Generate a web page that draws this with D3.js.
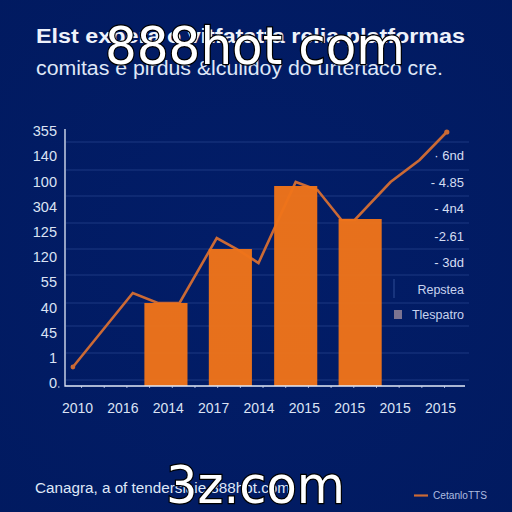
<!DOCTYPE html>
<html><head><meta charset="utf-8">
<script src="https://cdn.jsdelivr.net/npm/d3@7/dist/d3.min.js"></script>
<style>html,body{margin:0;padding:0;background:#011b63;overflow:hidden}svg{display:block}</style>
</head><body><svg id="c" width="512" height="512"></svg>
<script>
const yTickLabels = ["0","1","45","40","55","120","125","304","100","140","355"];
const xTickLabels = ["2010","2016","2014","2017","2014","2015","2015","2015","2015"];
const gridValues = [6,33,60,83,111,137,163,190,216,244];
const barPeriods = [1.96,3.38,4.82,6.24];
const barValues = [83,137,200,167];
const linePeriods = [-0.09,1.23,1.78,2.26,3.08,3.52,4.0,4.82,5.3,5.83,6.12,6.91,7.55,8.15];
const lineValues = [19,93,83,83,148,137,123,204,196,166,166,204,226,254];
const rightLabels = ["- 3dd","-2.61","- 4n4","- 4.85","· 6nd"];
const rightValues = [124,150,178,204,231];
const legendLabels = ["Repstea","Tlespatro"];
const titleText = "Elst expera o vitfatatta relia platformas";
const subtitleText = "comitas e pirdus &lculidoy do urtertaco cre.";
const footerText = "Canagra, a of tendersiaie 888hot.com";
const footerLegend = "CetanloTTS";
const stamps = ["888hot com","3z.com"];

const svg = d3.select("#c");
const defs = svg.append("defs");
const bgGrad = defs.append("radialGradient").attr("id","bg").attr("cx","50%").attr("cy","50%").attr("r","75%");
bgGrad.append("stop").attr("offset","0%").attr("stop-color","#021d68");
bgGrad.append("stop").attr("offset","100%").attr("stop-color","#011a60");
svg.append("rect").attr("width",512).attr("height",512).attr("fill","url(#bg)");

const font = "'Liberation Sans',Arial,sans-serif";
const x = d3.scaleLinear().domain([0,8]).range([77,440]);
const y = d3.scaleLinear().domain([0,260]).range([386,126]);
const yTicks = d3.scalePoint().domain(d3.range(yTickLabels.length)).range([383,131]);

svg.append("g").selectAll("line").data(gridValues).join("line")
  .attr("x1",66).attr("x2",469).attr("y1",d=>y(d)).attr("y2",d=>y(d))
  .attr("stroke","#2f4d96").attr("stroke-width",1).attr("opacity",.6);

const linePts = linePeriods.map((p,i)=>[p,lineValues[i]]);
svg.append("path").attr("d",d3.line().x(d=>x(d[0])).y(d=>y(d[1]))(linePts))
  .attr("fill","none").attr("stroke","#cb6a35").attr("stroke-width",2.6).attr("stroke-linejoin","miter");
svg.append("circle").attr("cx",x(linePeriods[0])).attr("cy",y(lineValues[0])).attr("r",2.4).attr("fill","#cb6a35");
svg.append("circle").attr("cx",x(linePeriods[linePeriods.length-1])).attr("cy",y(lineValues[lineValues.length-1])).attr("r",2.6).attr("fill","#cb6a35");

const bw = x(0.95)-x(0);
svg.append("g").selectAll("rect").data(barPeriods).join("rect")
  .attr("x",d=>x(d)-bw/2).attr("width",bw)
  .attr("y",(d,i)=>y(barValues[i])).attr("height",(d,i)=>y(0)-y(barValues[i]))
  .attr("fill","#ee741a").attr("fill-opacity",.97);

const axX = svg.append("g").attr("transform",`translate(0,${y(0)})`)
  .call(d3.axisBottom(x).tickValues(d3.range(xTickLabels.length)).tickSize(0).tickPadding(17).tickFormat(i=>xTickLabels[i]));
axX.select(".domain").remove();
axX.selectAll("text").attr("fill","#dbe3f4").attr("font-family",font).attr("font-size",14);

const axY = svg.append("g").attr("transform","translate(57,0)")
  .call(d3.axisLeft(yTicks).tickSize(0).tickPadding(0).tickFormat(i=>yTickLabels[i]));
axY.select(".domain").remove();
axY.selectAll("text").attr("fill","#dbe3f4").attr("font-family",font).attr("font-size",14.5);

svg.append("path").attr("d",`M65 129V${y(0)}H465`).attr("fill","none").attr("stroke","#e4eaf8").attr("stroke-width",1.3);
svg.append("g").selectAll("line").data(d3.range(0,18)).join("line")
  .attr("x1",d=>x(d/2-0.4)).attr("x2",d=>x(d/2-0.4)).attr("y1",y(0)).attr("y2",y(0)+2)
  .attr("stroke","#c9d4ee").attr("stroke-width",.8);

svg.append("g").selectAll("text").data(rightLabels).join("text")
  .attr("x",464).attr("y",(d,i)=>y(rightValues[i])+5).attr("text-anchor","end")
  .attr("fill","#d5def2").attr("font-family",font).attr("font-size",13).text(d=>d);

svg.append("g").selectAll("text").data(legendLabels).join("text")
  .attr("x",464).attr("y",(d,i)=>294+i*25).attr("text-anchor","end")
  .attr("fill","#c8d3ee").attr("font-family",font).attr("font-size",12.5).text(d=>d);
svg.append("line").attr("x1",394).attr("x2",394).attr("y1",279).attr("y2",298).attr("stroke","#2f4d96");
svg.append("rect").attr("x",394).attr("y",310).attr("width",8).attr("height",9).attr("fill","#7b7391");

svg.append("text").attr("x",36).attr("y",43).attr("fill","#eef2fb").attr("font-family",font)
  .attr("font-weight",700).attr("font-size",20).attr("textLength",429).attr("lengthAdjust","spacingAndGlyphs").text(titleText);
svg.append("text").attr("x",36).attr("y",75).attr("fill","#dfe7f7").attr("font-family",font)
  .attr("font-size",20).attr("textLength",407).attr("lengthAdjust","spacingAndGlyphs").text(subtitleText);
svg.append("text").attr("x",35).attr("y",493).attr("fill","#dfe7f7").attr("font-family",font)
  .attr("font-size",14).attr("textLength",255).attr("lengthAdjust","spacingAndGlyphs").text(footerText);

svg.append("line").attr("x1",414).attr("x2",428).attr("y1",495.5).attr("y2",495.5).attr("stroke","#cb6a35").attr("stroke-width",2.2);
svg.append("text").attr("x",433).attr("y",499).attr("fill","#aebde0").attr("font-family",font)
  .attr("font-size",10).attr("textLength",54).attr("lengthAdjust","spacingAndGlyphs").text(footerLegend);

svg.append("g").selectAll("text").data(stamps).join("text")
  .attr("x",(d,i)=>[255,255.5][i]).attr("y",(d,i)=>[64,503][i]).attr("text-anchor","middle")
  .attr("font-family","'DejaVu Sans',sans-serif").attr("font-size",52)
  .attr("textLength",(d,i)=>[300,179][i]).attr("lengthAdjust","spacingAndGlyphs")
  .attr("fill","#fff").attr("stroke","#000").attr("stroke-width",2.5).attr("paint-order","stroke").text(d=>d);
</script></body></html>
